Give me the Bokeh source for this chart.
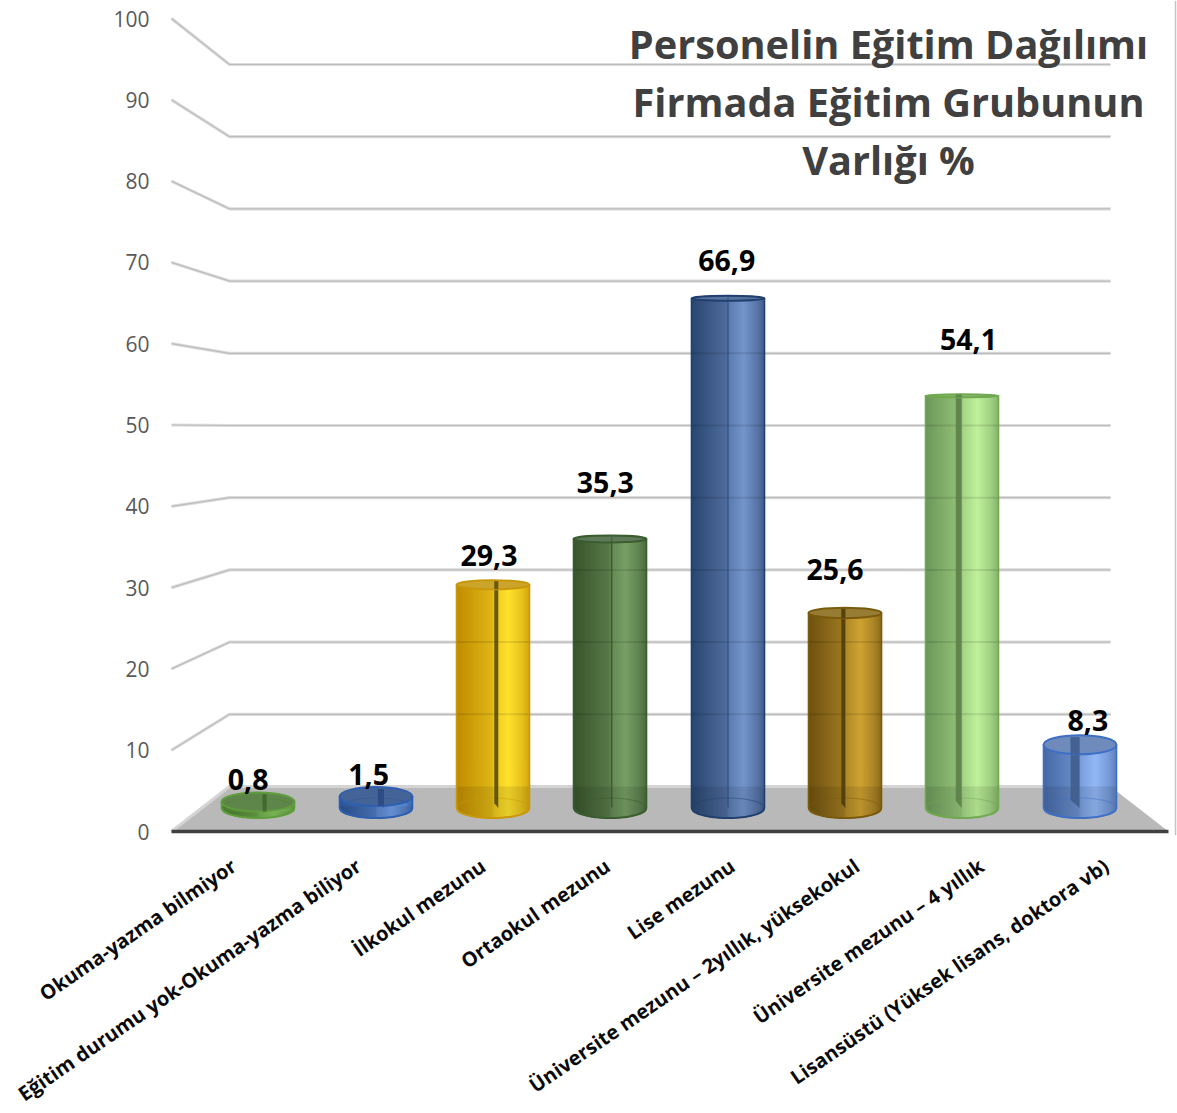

import numpy as np
from bokeh.plotting import figure
from bokeh.models import FixedTicker, ColumnDataSource
from bokeh.core.properties import value
from bokeh.embed import file_html
from bokeh.resources import INLINE

# ---- data
categories = ["Okuma-yazma bilmiyor", "Eğitim durumu yok-Okuma-yazma biliyor", "İlkokul mezunu",
              "Ortaokul mezunu", "Lise mezunu", "Üniversite mezunu – 2yıllık, yüksekokul",
              "Üniversite mezunu – 4 yıllık", "Lisansüstü (Yüksek lisans, doktora vb)"]
values = [0.8, 1.5, 29.3, 35.3, 66.9, 25.6, 54.1, 8.3]
value_labels = ["0,8", "1,5", "29,3", "35,3", "66,9", "25,6", "54,1", "8,3"]
y_ticks = [0, 10, 20, 30, 40, 50, 60, 70, 80, 90, 100]
title_lines = ["Personelin Eğitim Dağılımı", "Firmada Eğitim Grubunun", "Varlığı %"]

# ---- styles per bar
dark_cols = ["#4a7a30", "#2c5496", "#c08c00", "#38552c", "#2a4670", "#6f5210", "#6c985a", "#466aa6"]
light_cols = ["#84c45e", "#6f9ee6", "#ffe22e", "#789f66", "#7495cc", "#cfa333", "#bff29a", "#93b8f6"]
edge_cols = ["#5f9e3c", "#2f5fb0", "#c9980a", "#3a5c2e", "#22406e", "#7a5a0c", "#70a850", "#3f6fc4"]
cap_cols = ["#4f7d36", "#2f5590", "#c29406", "#41623a", "#3a5c90", "#85650f", "#79aa5c", "#5577b0"]
sliver_cols = ["#3f6430", "#2c4a80", "#5a4a08", "#2f4a28", "#2a4a7c", "#4e3c08", "#5c7f48", "#3f5c8c"]
sliver_widths = [4, 6, 4, 1.5, 1.5, 4, 6, 9]
label_dx = [-10, -7, -4, -5, -1, -10, 6, 8]
label_dy = [-22, -22, -29, -56.5, -38, -43, -56, -24]

# ---- projection of the 3-D box onto the page (pixels of the window)
FL, FR, BL, BR = 171.0, 1168.0, 229.0, 1110.0
Y0_F, SC_F, Y0_B, SC_B = 831.0, 8.13, 786.0, 7.22
Y0_BAR, SC_BAR = 807.5, 7.62
UNIT = (FR - FL) / len(categories)
X = lambda px: (np.asarray(px, float) - FL) / UNIT
Y = lambda py: (Y0_F - np.asarray(py, float)) / SC_F
MID_LEFT = 199.0

p = figure(width=1177, height=1113, frame_width=1009, frame_height=835,
           output_backend="svg", toolbar_location=None,
           x_range=(float(X(168)), float(X(1177))), y_range=(float(Y(835)), float(Y(0))),
           min_border_left=168, min_border_right=0, min_border_top=0, min_border_bottom=0,
           outline_line_color=None, background_fill_color="white")
p.grid.visible = False

p.yaxis.ticker = FixedTicker(ticks=y_ticks)
p.yaxis.axis_line_color = None
p.yaxis.major_tick_line_color = None
p.yaxis.minor_tick_line_color = None
p.yaxis.major_label_standoff = 13
p.yaxis.major_label_text_font = "Open Sans"
p.yaxis.major_label_text_font_size = "21px"
p.yaxis.major_label_text_color = "#595959"

p.xaxis.ticker = FixedTicker(ticks=[i + 0.5 for i in range(len(categories))])
p.xaxis.major_label_overrides = {i + 0.5: c for i, c in enumerate(categories)}
p.xaxis.axis_line_color = None
p.xaxis.major_tick_line_color = None
p.xaxis.minor_tick_line_color = None
p.xaxis.major_label_orientation = np.radians(34.5)
p.xaxis.major_label_standoff = 22
p.xaxis.major_label_text_font = "Open Sans"
p.xaxis.major_label_text_font_style = "bold"
p.xaxis.major_label_text_font_size = "20px"
p.xaxis.major_label_text_color = "#0a0a0a"

# floor
p.patch(X([FL, BL, BR, FR]), Y([Y0_F, Y0_B, Y0_B, Y0_F]), fill_color="#b9b9b9", line_color=None)

# walls' gridlines
gx, gy = [], []
for t in y_ticks:
    gx.append(X([FL, BL, BR]))
    gy.append(Y([Y0_F - SC_F * t, Y0_B - SC_B * t, Y0_B - SC_B * t]))
p.multi_line(gx[1:], gy[1:], line_color="#dcdcdc", line_width=3.2)
p.multi_line(gx[1:], gy[1:], line_color="#bdbdbd", line_width=1.2)
p.multi_line([gx[0]], [gy[0]], line_color="#d4d4d4", line_width=3)
p.line(X([FL, FR]), Y([Y0_F, Y0_F]), line_color="#404040", line_width=3.5)
p.line(X([1175, 1175]), Y([0, 835]), line_color="#c4c4c4", line_width=1.5)

# cylinders: opaque strips, each one lapping under the next, so that no seams show
HALF = 36.5
N = 73
offs = np.arange(N + 1)
tm = (offs[:-1] + .5) / N * 2 - 1
shade = np.interp(tm, [-1, -.65, -.02, .02, .42, .8, 1], [0, .18, .5, .68, 1, .62, .3])
arc = lambda t: np.sqrt(np.clip(1 - t * t, 0, 1))
ry_of = lambda py: max(1.5, 0.0245 * abs(py - 400))
hexrgb = lambda c: np.array([int(c[k:k + 2], 16) for k in (1, 3, 5)], float)
right_lap = np.r_[np.ones(N - 1), 0.0]

for i, v in enumerate(values):
    cx = MID_LEFT + (BR - BL + FR - FL) / 2 / len(values) * (i + .5)
    x0 = float(round(cx - HALF))
    cx = x0 + HALF
    top = Y0_BAR - SC_BAR * v
    ry_t, ry_b = ry_of(top), 10.0
    if v < 10:
        ry_t = 9.5
    d, l = hexrgb(dark_cols[i]), hexrgb(light_cols[i])
    cols = ["#%02x%02x%02x" % tuple((d + (l - d) * s).astype(int)) for s in shade]
    p.quad(left=X(x0 + offs[:-1]), right=X(x0 + offs[1:] + right_lap),
           top=Y(top + ry_t * arc(tm)), bottom=Y(Y0_BAR + ry_b * arc(tm)),
           fill_color=cols, fill_alpha=1.0, line_color=None)
    # what shows through the translucent body
    for t in y_ticks:
        gp = Y0_B - SC_B * t
        if top < gp - 1 and t > 0:
            p.line(X([cx - HALF, cx + HALF]), Y([gp, gp]), line_color="black", line_alpha=0.10, line_width=2)
    yfl = max(top + ry_t, Y0_B)
    tt = np.linspace(-1, 1, 41)
    p.patch(X(np.r_[cx - HALF, cx + HALF, cx + HALF * tt[::-1]]),
            Y(np.r_[yfl, yfl, Y0_BAR + ry_b * arc(tt[::-1])]),
            fill_color="black", fill_alpha=0.09, line_color=None)
    p.ellipse(X(cx), Y(Y0_BAR), width=2 * HALF / UNIT, height=2 * ry_b / SC_F,
              fill_color=None, line_color=edge_cols[i], line_alpha=0.45, line_width=1.2)
    # the inner sliver
    sx = cx + (727 - cx) * 0.014
    w = sliver_widths[i]
    p.patch(X([sx - w / 2, sx + w / 2, sx + w / 2, sx - w / 2]),
            Y([top - ry_t * .8, top - ry_t * .8, Y0_BAR, Y0_BAR - min(w * 1.2, 8)]),
            fill_color=sliver_cols[i], fill_alpha=0.9 if w > 2 else 0.7, line_color=None)
    # cap and outline
    p.ellipse(X(cx), Y(top), width=2 * HALF / UNIT, height=2 * ry_t / SC_F,
              fill_color=cap_cols[i], fill_alpha=0.85, line_color=edge_cols[i], line_width=2)
    p.line(X(np.r_[cx - HALF, cx - HALF]), Y([top, Y0_BAR]), line_color=edge_cols[i], line_width=1.6)
    p.line(X(np.r_[cx + HALF, cx + HALF]), Y([top, Y0_BAR]), line_color=edge_cols[i], line_width=1.6)
    p.line(X(cx + HALF * tt), Y(Y0_BAR + ry_b * arc(tt)), line_color=edge_cols[i], line_width=2)
    # sliver over the cap for the short bars
    if w > 2:
        p.patch(X([sx - w / 2, sx + w / 2, sx + w / 2, sx - w / 2]),
                Y([top - ry_t * .8, top - ry_t * .8, top + ry_t, top + ry_t]),
                fill_color=sliver_cols[i], fill_alpha=0.8, line_color=None)

# value labels
bar_x = [X(MID_LEFT + (BR - BL + FR - FL) / 2 / len(values) * (i + .5)).item() for i in range(len(values))]
bar_y = [Y(Y0_BAR - SC_BAR * v).item() for v in values]
src = ColumnDataSource(dict(x=bar_x, y=bar_y, text=value_labels, dx=label_dx, dy=label_dy))
p.text("x", "y", text="text", source=src, x_offset="dx", y_offset="dy", text_align="center",
       text_baseline="middle", text_font=value("Open Sans"), text_font_style="bold",
       text_font_size="28.5px", text_color="black")

# title
tsrc = ColumnDataSource(dict(x=[X(888).item()] * 3, y=[Y(c).item() for c in (43.5, 101.5, 159.5)], text=title_lines))
p.text("x", "y", text="text", source=tsrc, text_align="center", text_baseline="middle",
       text_font=value("Open Sans"), text_font_style="bold", text_font_size="39.7px", text_color="#404040")

open("out.html", "w").write(file_html(p, INLINE))
